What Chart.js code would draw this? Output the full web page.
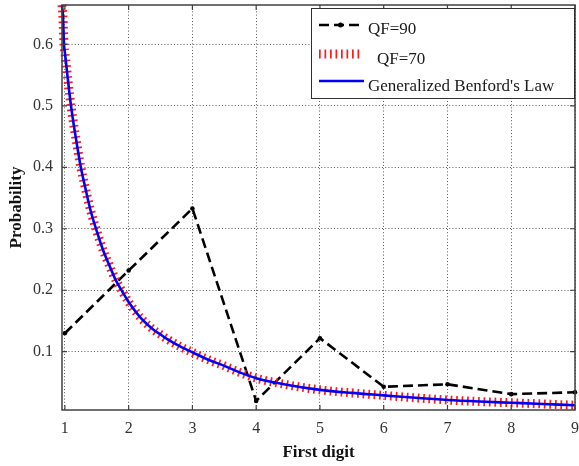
<!DOCTYPE html>
<html>
<head>
<meta charset="utf-8">
<script src="https://cdn.jsdelivr.net/npm/chart.js@4/dist/chart.umd.min.js"></script>
<style>
  html, body { margin: 0; padding: 0; background: #ffffff; }
  #wrap { width: 579px; height: 466px; position: relative; }
</style>
</head>
<body>
<div id="wrap"><canvas id="c" width="579" height="466"></canvas></div>
<script>
// ---- data ----
const digits = [1, 2, 3, 4, 5, 6, 7, 8, 9];
const qf90 = [0.130, 0.232, 0.333, 0.020, 0.122, 0.043, 0.047, 0.031, 0.034];

const benfordX = [0.955, 0.97, 0.986, 1.0, 1.05, 1.1, 1.15, 1.2, 1.25, 1.3, 1.4, 1.5, 1.6, 1.7, 1.8, 1.9, 2.0,
                  2.2, 2.4, 2.5, 2.6, 2.8, 3.0, 3.25, 3.5, 3.75, 4.0, 4.5, 5.0, 5.5, 6.0, 6.5, 7.0, 7.5, 8.0, 8.5, 9.0];
const benfordY = [0.664, 0.645, 0.600, 0.587, 0.540, 0.497, 0.462, 0.430, 0.400, 0.376, 0.331, 0.296, 0.265, 0.240, 0.216, 0.198, 0.181,
                  0.154, 0.135, 0.128, 0.121, 0.109, 0.099, 0.087, 0.077, 0.066, 0.057, 0.046, 0.038, 0.033, 0.029, 0.025, 0.0215, 0.019, 0.017, 0.015, 0.013];
const qf70Y = benfordY.slice();

const xTicks = [1, 2, 3, 4, 5, 6, 7, 8, 9];
const yTicks = [0.1, 0.2, 0.3, 0.4, 0.5, 0.6];
const seriesNames = ['QF=90', 'QF=70', "Generalized Benford's Law"];
const xTitle = 'First digit';
const yTitle = 'Probability';

const toXY = (xs, ys) => xs.map((x, i) => ({ x: x, y: ys[i] }));

const SERIF = "'Liberation Serif', 'DejaVu Serif', serif";

const zeroPad = s => { s.paddingTop = 0; s.paddingBottom = 0; s.paddingLeft = 0; s.paddingRight = 0; };

const framePlugin = {
  id: 'frame',
  afterDraw(chart) {
    const { ctx, chartArea: a, scales } = chart;
    ctx.save();
    // box
    ctx.strokeStyle = '#404040';
    ctx.lineWidth = 1.5;
    ctx.setLineDash([]);
    ctx.strokeRect(a.left, a.top, a.right - a.left, a.bottom - a.top);
    // inward ticks
    ctx.lineWidth = 1.2;
    const tl = 5;
    xTicks.forEach(v => {
      const px = scales.x.getPixelForValue(v);
      ctx.beginPath();
      ctx.moveTo(px, a.bottom); ctx.lineTo(px, a.bottom - tl);
      ctx.moveTo(px, a.top); ctx.lineTo(px, a.top + tl);
      ctx.stroke();
    });
    yTicks.forEach(v => {
      const py = scales.y.getPixelForValue(v);
      ctx.beginPath();
      ctx.moveTo(a.left, py); ctx.lineTo(a.left + tl, py);
      ctx.moveTo(a.right, py); ctx.lineTo(a.right - tl, py);
      ctx.stroke();
    });

    // legend
    const bw = 264, bh = 91;
    const bx = a.right - bw, by = a.top + 3;
    ctx.fillStyle = '#ffffff';
    ctx.fillRect(bx, by, bw, bh);
    ctx.strokeStyle = '#303030';
    ctx.lineWidth = 1;
    ctx.strokeRect(bx + 0.5, by + 0.5, bw - 1, bh - 1);

    const lx1 = bx + 8, lx2 = bx + 51;
    // entry 1: black dashed with dot
    ctx.strokeStyle = '#000000';
    ctx.lineWidth = 2.6;
    ctx.setLineDash([10, 5]);
    ctx.beginPath(); ctx.moveTo(lx1, by + 17); ctx.lineTo(lx2, by + 17); ctx.stroke();
    ctx.setLineDash([]);
    ctx.fillStyle = '#000000';
    ctx.beginPath(); ctx.arc((lx1 + lx2) / 2, by + 17, 2.5, 0, Math.PI * 2); ctx.fill();
    // entry 2: red thick dotted
    ctx.strokeStyle = '#ff1a1a';
    ctx.lineWidth = 9;
    ctx.lineCap = 'butt';
    ctx.setLineDash([1.7, 3.8]);
    ctx.beginPath(); ctx.moveTo(lx1, by + 46); ctx.lineTo(lx2 - 2, by + 46); ctx.stroke();
    // entry 3: blue solid
    ctx.setLineDash([]);
    ctx.strokeStyle = '#0000ff';
    ctx.lineWidth = 2.5;
    ctx.beginPath(); ctx.moveTo(lx1, by + 73); ctx.lineTo(lx2 + 2, by + 73); ctx.stroke();

    ctx.fillStyle = '#1a1a1a';
    ctx.font = '17px ' + SERIF;
    ctx.textBaseline = 'alphabetic';
    ctx.textAlign = 'left';
    ctx.fillText(seriesNames[0], bx + 57, by + 26);
    ctx.fillText(seriesNames[1], bx + 66, by + 56);
    ctx.fillText(seriesNames[2], bx + 57, by + 83);
    ctx.restore();
  }
};

new Chart(document.getElementById('c'), {
  type: 'line',
  data: {
    datasets: [
      {
        label: seriesNames[0],
        data: toXY(digits, qf90),
        borderColor: '#000000',
        borderWidth: 2.6,
        borderDash: [10, 5],
        pointRadius: 2.3,
        pointBackgroundColor: '#000000',
        pointBorderColor: '#000000',
        pointBorderWidth: 0,
        tension: 0,
        order: 2,
        clip: 6
      },
      {
        label: seriesNames[1],
        data: toXY(benfordX, qf70Y),
        borderColor: '#ff1a1a',
        borderWidth: 9,
        borderDash: [1.7, 3.8],
        borderCapStyle: 'butt',
        pointRadius: 0,
        cubicInterpolationMode: 'monotone',
        order: 1,
        clip: 6
      },
      {
        label: seriesNames[2],
        data: toXY(benfordX, benfordY),
        borderColor: '#0000ff',
        borderWidth: 2.6,
        pointRadius: 0,
        cubicInterpolationMode: 'monotone',
        order: 0,
        clip: 4
      }
    ]
  },
  options: {
    responsive: false,
    animation: false,
    events: [],
    layout: { padding: { top: 5, right: 2, left: 0, bottom: 0 } },
    plugins: {
      legend: { display: false },
      tooltip: { enabled: false },
      title: { display: false }
    },
    scales: {
      x: {
        type: 'linear',
        min: 0.955,
        max: 9,
        afterBuildTicks: s => { s.ticks = xTicks.map(v => ({ value: v })); },
        afterFit: s => { s.height = 56; zeroPad(s); },
        grid: {
          color: 'rgba(0,0,0,0.65)',
          lineWidth: 1,
          drawTicks: false
        },
        border: { display: false, dash: [1, 2.2] },
        ticks: {
          color: '#333333',
          font: { family: SERIF, size: 16 },
          padding: 9,
          maxRotation: 0,
          callback: v => String(v)
        },
        title: {
          display: true,
          text: xTitle,
          color: '#111111',
          font: { family: SERIF, size: 17, weight: 'bold' },
          padding: { top: 3, bottom: 3 }
        }
      },
      y: {
        type: 'linear',
        min: 0.0052,
        max: 0.664,
        afterBuildTicks: s => { s.ticks = yTicks.map(v => ({ value: v })); },
        afterFit: s => { s.width = 62; zeroPad(s); },
        grid: {
          color: 'rgba(0,0,0,0.65)',
          lineWidth: 1,
          drawTicks: false
        },
        border: { display: false, dash: [1, 2.2] },
        ticks: {
          color: '#333333',
          font: { family: SERIF, size: 16 },
          padding: 9,
          callback: v => v.toFixed(1)
        },
        title: {
          display: true,
          text: yTitle,
          color: '#111111',
          font: { family: SERIF, size: 17, weight: 'bold' },
          padding: { top: 6, bottom: 6 }
        }
      }
    }
  },
  plugins: [framePlugin]
});
</script>
</body>
</html>
